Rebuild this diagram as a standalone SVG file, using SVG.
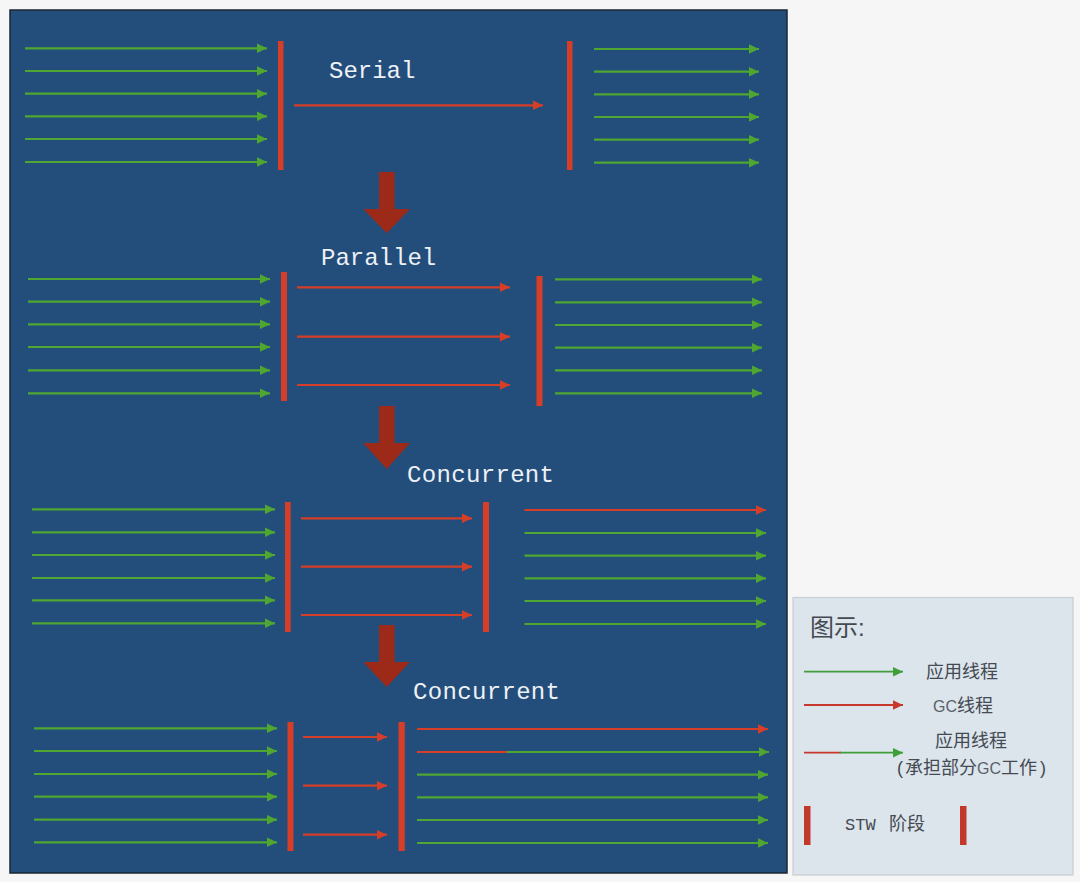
<svg xmlns="http://www.w3.org/2000/svg" width="1080" height="882" viewBox="0 0 1080 882">
<defs>
<style>
.g{stroke:#4fa630;stroke-width:2.2;fill:none}
.r{stroke:#d63e28;stroke-width:2.2;fill:none}
.lg{stroke:#3f9e3a;stroke-width:1.8;fill:none}
.lr{stroke:#c6392c;stroke-width:1.8;fill:none}
.bar{fill:#d63e28}
.big{fill:#9d2918}
.title{font-family:"Liberation Mono","DejaVu Sans Mono",monospace;font-size:24px;fill:#eef1f5}
.lt{font-family:"Liberation Sans","Noto Sans CJK SC",sans-serif;font-size:18px;fill:#444a52}
.mono{font-family:"Liberation Mono",monospace;font-size:17px;fill:#444a52}
</style>
<marker id="ag" markerUnits="userSpaceOnUse" markerWidth="12" markerHeight="11" refX="10.5" refY="5.5" orient="auto"><path d="M0,0.5 L10.5,5.5 L0,10.5 z" fill="#4fa630"/></marker>
<marker id="ar" markerUnits="userSpaceOnUse" markerWidth="12" markerHeight="11" refX="10.5" refY="5.5" orient="auto"><path d="M0,0.5 L10.5,5.5 L0,10.5 z" fill="#d63e28"/></marker>
<marker id="alg" markerUnits="userSpaceOnUse" markerWidth="12" markerHeight="11" refX="10.5" refY="5.5" orient="auto"><path d="M0,0.5 L10.5,5.5 L0,10.5 z" fill="#3f9e3a"/></marker>
<marker id="alr" markerUnits="userSpaceOnUse" markerWidth="12" markerHeight="11" refX="10.5" refY="5.5" orient="auto"><path d="M0,0.5 L10.5,5.5 L0,10.5 z" fill="#c6392c"/></marker>
</defs>
<rect width="1080" height="882" fill="#f6f6f6"/>
<rect id="panel" x="10" y="10" width="777" height="863" fill="#234e7b" stroke="#1b2633" stroke-width="1.5"/>

<g id="serial">
<text class="title" x="329" y="78">Serial</text>
<rect class="bar" x="278" y="41" width="5.5" height="129"/>
<rect class="bar" x="567" y="41" width="5.5" height="129"/>
</g>
<g id="parallel">
<text class="title" x="321" y="265">Parallel</text>
<rect class="bar" x="281" y="272" width="6" height="129"/>
<rect class="bar" x="536.5" y="276" width="6" height="130"/>
</g>
<g id="concurrent1">
<text class="title" x="407" y="482" textLength="147">Concurrent</text>
<rect class="bar" x="285" y="502" width="5.7" height="130"/>
<rect class="bar" x="483" y="502" width="6" height="130"/>
</g>
<g id="concurrent2">
<text class="title" x="413" y="699" textLength="147">Concurrent</text>
<rect class="bar" x="287.5" y="722" width="6" height="129"/>
<rect class="bar" x="398.5" y="722" width="6.3" height="129"/>
</g>
<g id="transitions">
<path class="big" d="M379,172 H394.5 V209 H410 L386.7,233 L363.3,209 H379 Z"/>
<path class="big" d="M379,406 H394.5 V443 H410 L386.7,469 L363.3,443 H379 Z"/>
<path class="big" d="M379,625 H394.5 V662 H410 L386.7,687 L363.3,662 H379 Z"/>
</g>

<g id="connectors">
<!-- serial -->
<g marker-end="url(#ag)" class="g">
<line x1="25" y1="48.3" x2="267" y2="48.3"/>
<line x1="25" y1="71" x2="267" y2="71"/>
<line x1="25" y1="93.7" x2="267" y2="93.7"/>
<line x1="25" y1="116.3" x2="267" y2="116.3"/>
<line x1="25" y1="139" x2="267" y2="139"/>
<line x1="25" y1="162" x2="267" y2="162"/>
<line x1="594" y1="49" x2="759" y2="49"/>
<line x1="594" y1="71.7" x2="759" y2="71.7"/>
<line x1="594" y1="94.3" x2="759" y2="94.3"/>
<line x1="594" y1="117" x2="759" y2="117"/>
<line x1="594" y1="139.7" x2="759" y2="139.7"/>
<line x1="594" y1="162.7" x2="759" y2="162.7"/>
</g>
<line class="r" marker-end="url(#ar)" x1="294" y1="105.3" x2="543" y2="105.3"/>
<!-- parallel -->
<g marker-end="url(#ag)" class="g">
<line x1="28" y1="279" x2="270" y2="279"/>
<line x1="28" y1="301.7" x2="270" y2="301.7"/>
<line x1="28" y1="324.3" x2="270" y2="324.3"/>
<line x1="28" y1="347" x2="270" y2="347"/>
<line x1="28" y1="370.3" x2="270" y2="370.3"/>
<line x1="28" y1="393.3" x2="270" y2="393.3"/>
<line x1="555" y1="279.3" x2="762" y2="279.3"/>
<line x1="555" y1="302.3" x2="762" y2="302.3"/>
<line x1="555" y1="325" x2="762" y2="325"/>
<line x1="555" y1="347.7" x2="762" y2="347.7"/>
<line x1="555" y1="370.3" x2="762" y2="370.3"/>
<line x1="555" y1="393.3" x2="762" y2="393.3"/>
</g>
<g marker-end="url(#ar)" class="r">
<line x1="297" y1="287.3" x2="510" y2="287.3"/>
<line x1="297" y1="336.7" x2="510" y2="336.7"/>
<line x1="297" y1="385" x2="510" y2="385"/>
</g>
<!-- concurrent 1 -->
<g marker-end="url(#ag)" class="g">
<line x1="32" y1="509.3" x2="275" y2="509.3"/>
<line x1="32" y1="532.3" x2="275" y2="532.3"/>
<line x1="32" y1="555" x2="275" y2="555"/>
<line x1="32" y1="578" x2="275" y2="578"/>
<line x1="32" y1="600.3" x2="275" y2="600.3"/>
<line x1="32" y1="623.3" x2="275" y2="623.3"/>
<line x1="524.5" y1="533" x2="766" y2="533"/>
<line x1="524.5" y1="555.7" x2="766" y2="555.7"/>
<line x1="524.5" y1="578.3" x2="766" y2="578.3"/>
<line x1="524.5" y1="601" x2="766" y2="601"/>
<line x1="524.5" y1="624" x2="766" y2="624"/>
</g>
<g marker-end="url(#ar)" class="r">
<line x1="301" y1="518.3" x2="472" y2="518.3"/>
<line x1="301" y1="566.7" x2="472" y2="566.7"/>
<line x1="301" y1="615" x2="472" y2="615"/>
<line x1="524.5" y1="510" x2="766" y2="510"/>
</g>
<!-- concurrent 2 -->
<g marker-end="url(#ag)" class="g">
<line x1="34" y1="728.3" x2="277" y2="728.3"/>
<line x1="34" y1="751" x2="277" y2="751"/>
<line x1="34" y1="774" x2="277" y2="774"/>
<line x1="34" y1="796.7" x2="277" y2="796.7"/>
<line x1="34" y1="819.7" x2="277" y2="819.7"/>
<line x1="34" y1="842.3" x2="277" y2="842.3"/>
<line x1="506" y1="752" x2="769" y2="752"/>
<line x1="417" y1="774.7" x2="768" y2="774.7"/>
<line x1="417" y1="797.3" x2="768" y2="797.3"/>
<line x1="417" y1="820" x2="768" y2="820"/>
<line x1="417" y1="843" x2="768" y2="843"/>
</g>
<line class="r" x1="417" y1="752" x2="507" y2="752"/>
<g marker-end="url(#ar)" class="r">
<line x1="303" y1="737" x2="387" y2="737"/>
<line x1="303" y1="785.7" x2="387" y2="785.7"/>
<line x1="303" y1="834.7" x2="387" y2="834.7"/>
<line x1="417" y1="729" x2="768" y2="729"/>
</g>
</g>

<g id="legend">
<rect x="793" y="597.5" width="280" height="277.5" fill="#dce4ec" stroke="#c9ced3" stroke-width="1.2"/>
<text class="lt" x="810" y="636" style="font-size:24px">图示:</text>
<line class="lg" marker-end="url(#alg)" x1="804" y1="671.7" x2="903" y2="671.7"/>
<text class="lt" x="926" y="678">应用线程</text>
<line class="lr" marker-end="url(#alr)" x1="804" y1="705" x2="903" y2="705"/>
<text class="lt" x="933" y="711.5"><tspan style="font-size:16px;fill:#5a6068">GC</tspan>线程</text>
<line class="lr" x1="804" y1="752.7" x2="841" y2="752.7"/>
<line class="lg" marker-end="url(#alg)" x1="840" y1="752.7" x2="903" y2="752.7"/>
<text class="lt" x="935" y="747">应用线程</text>
<text class="lt" y="773.5"><tspan x="897">(</tspan><tspan x="905">承担部分</tspan><tspan style="font-size:16px;fill:#5a6068">GC</tspan><tspan>工作</tspan><tspan x="1040">)</tspan></text>
<rect x="804" y="806" width="6.5" height="39" fill="#c0392b"/>
<rect x="960" y="806" width="6.5" height="39" fill="#c0392b"/>
<text class="mono" x="845" y="830">STW</text>
<text class="lt" x="889" y="830">阶段</text>
</g>
</svg>
